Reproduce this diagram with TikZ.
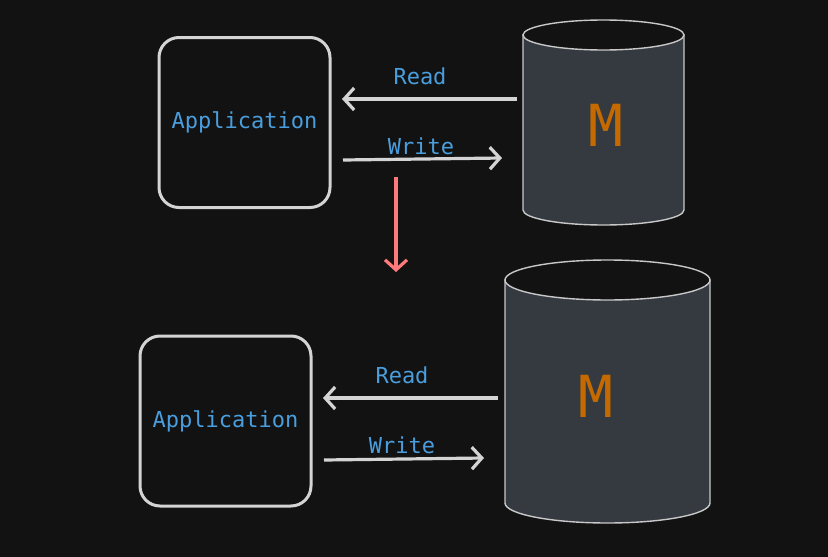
\documentclass[tikz,border=0pt]{standalone}
\usepackage{fontspec}
\newfontfamily\monof{DejaVu Sans Mono}
\usetikzlibrary{arrows.meta}
\definecolor{bg}{HTML}{121212}
\definecolor{edge}{HTML}{D4D4D4}
\definecolor{lbl}{HTML}{4A9EDD}
\definecolor{cylfill}{HTML}{343A40}
\definecolor{cyledge}{HTML}{C8C8C8}
\definecolor{mcol}{HTML}{C46A00}
\definecolor{redar}{HTML}{FF7B7B}
\tikzset{
  appbox/.style={draw=edge, line width=3pt, rounded corners=20pt, minimum width=171pt, minimum height=170pt, inner sep=0pt, text=lbl, font=\monof\fontsize{22}{26}\selectfont},
  lab/.style={text=lbl, font=\monof\fontsize{22}{26}\selectfont, inner sep=0pt},
  mlab/.style={text=mcol, font=\monof\fontsize{58}{62}\selectfont, inner sep=0pt},
  flow/.style={draw=edge, line width=3.2pt, -{Straight Barb[length=10pt,width=22pt,line width=3.2pt]}},
  down/.style={draw=redar, line width=3.2pt, -{Straight Barb[length=10pt,width=22pt,line width=3.2pt]}},
  cyl/.style={fill=cylfill, draw=cyledge, line width=1.4pt},
  cyltop/.style={fill=bg, draw=cyledge, line width=1.4pt},
}
\begin{document}
\begin{tikzpicture}[x=1pt,y=-1pt]
\fill[bg] (0,0) rectangle (828,557);
\useasboundingbox (0,0) rectangle (828,557);

% top cylinder
\path[cyl] (523,35) -- (523,210) arc[start angle=180,end angle=360,x radius=80.5,y radius=-15] -- (684,35) -- cycle;
\draw[cyltop] (603.5,35) ellipse[x radius=80.5,y radius=15];
\node[mlab] (m1) at (606,125) {M};

% bottom cylinder
\path[cyl] (505,280) -- (505,503) arc[start angle=180,end angle=360,x radius=102.5,y radius=-20] -- (710,280) -- cycle;
\draw[cyltop] (607.5,280) ellipse[x radius=102.5,y radius=20];
\node[mlab] (m2) at (596,396) {M};

% application boxes
\node[appbox] (app1) at (244.5,122.5) {Application};
\node[appbox] (app2) at (225.5,421) {Application};

% top arrows
\coordinate (r1s) at (517,99);
\coordinate (r1e) at (342,99);
\coordinate (w1s) at (343,160);
\coordinate (w1e) at (502,158);
\draw[flow] (r1s) -- (r1e);
\draw[flow] (w1s) -- (w1e);
\node[lab] (read1) at (420,76) {Read};
\node[lab] (write1) at (421,146) {Write};

% red arrow
\coordinate (ds) at (396,177);
\coordinate (de) at (396,272);
\draw[down] (ds) -- (de);

% bottom arrows
\coordinate (r2s) at (498,398);
\coordinate (r2e) at (323,398);
\coordinate (w2s) at (324,460);
\coordinate (w2e) at (484,458);
\draw[flow] (r2s) -- (r2e);
\draw[flow] (w2s) -- (w2e);
\node[lab] (read2) at (402,375) {Read};
\node[lab] (write2) at (402,445) {Write};
\end{tikzpicture}
\end{document}
